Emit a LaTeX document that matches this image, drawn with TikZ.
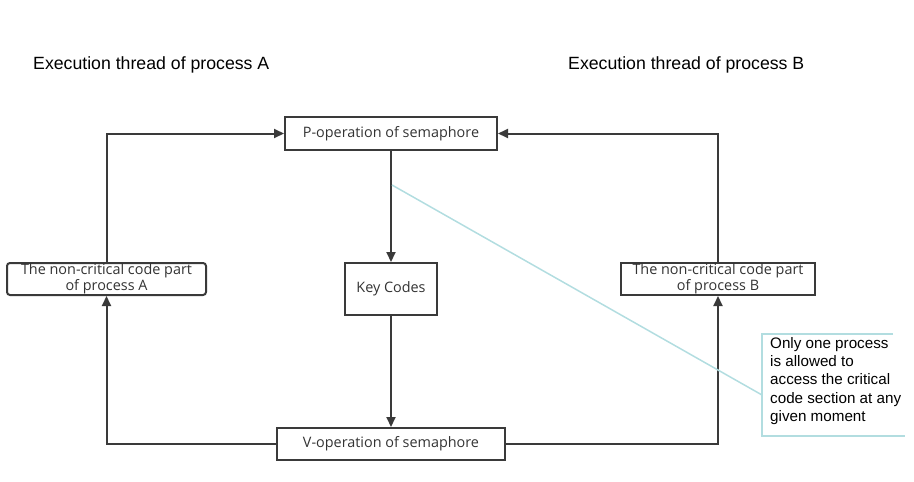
\documentclass[tikz,border=0pt]{standalone}
\usepackage{fontspec}
\usepackage{xcolor}
\usetikzlibrary{arrows.meta}
\setmainfont{Liberation Sans}
\newfontfamily\boxfont{Open Sans}

\definecolor{linegray}{HTML}{3A3A3A}
\definecolor{notecyan}{HTML}{B2DDE0}

\begin{document}
\begin{tikzpicture}[x=1pt,y=-1pt,
    opbox/.style={draw=linegray, line width=2pt, inner sep=0pt, align=center,
        font=\boxfont\fontsize{14.4}{16.5}\selectfont, text=black!80},
    flow/.style={draw=linegray, line width=2pt, -{Triangle[length=10pt,width=9pt]}},
    title/.style={font=\fontsize{17.7}{20}\selectfont, anchor=west, inner sep=0pt}]

    \useasboundingbox (0,0) rectangle (914,482);

    % thread titles
    \node[title] (ta) at (33,64.5) {Execution thread of process A};
    \node[title] (tb) at (568,64.5) {Execution thread of process B};

    % boxes
    \node[opbox, minimum width=212pt, minimum height=33pt] (pop) at (391,133.5) {\raisebox{-1.5pt}{P-operation of semaphore}};
    \node[opbox, minimum width=92pt, minimum height=52pt] (key) at (391,289) {\raisebox{-1.5pt}{Key Codes}};
    \node[opbox, minimum width=228pt, minimum height=32pt] (vop) at (391,444) {\raisebox{-1.5pt}{V-operation of semaphore}};
    \node[opbox, rounded corners=3pt, minimum width=199pt, minimum height=32pt] (nca) at (106.5,279) {The non-critical code part\\of process A};
    \node[opbox, minimum width=194pt, minimum height=32pt] (ncb) at (718,279) {The non-critical code part\\of process B};

    % corners
    \coordinate (va) at (nca.south |- vop.west);
    \coordinate (vb) at (ncb.south |- vop.east);
    \coordinate (pa) at (nca.north |- pop.west);
    \coordinate (pb) at (ncb.north |- pop.east);

    % arrows
    \draw[flow] (pop) -- (key);
    \draw[flow] (key) -- (vop);
    \draw[flow] (vop.west) -- (va) -- (nca.south);
    \draw[flow] (nca.north) -- (pa) -- (pop.west);
    \draw[flow] (ncb.north) -- (pb) -- (pop.east);
    \draw[flow] (vop.east) -- (vb) -- (ncb.south);

    % note
    \node[anchor=north west, inner sep=0pt, align=left, font=\fontsize{15.2}{18.3}\selectfont] (note) at (770,337) {Only one process\\is allowed to\\access the critical\\code section at any\\given moment};
    \coordinate (nt) at (762,334);
    \coordinate (nb) at (762,436);
    \draw[notecyan, line width=1.5pt] (893,334) -- (nt) -- (nb) -- (905,436);
    \coordinate (hook) at (392,185);
    \coordinate (tip) at (762,395);
    \draw[notecyan, line width=1.5pt] (hook) -- (tip);
\end{tikzpicture}
\end{document}
